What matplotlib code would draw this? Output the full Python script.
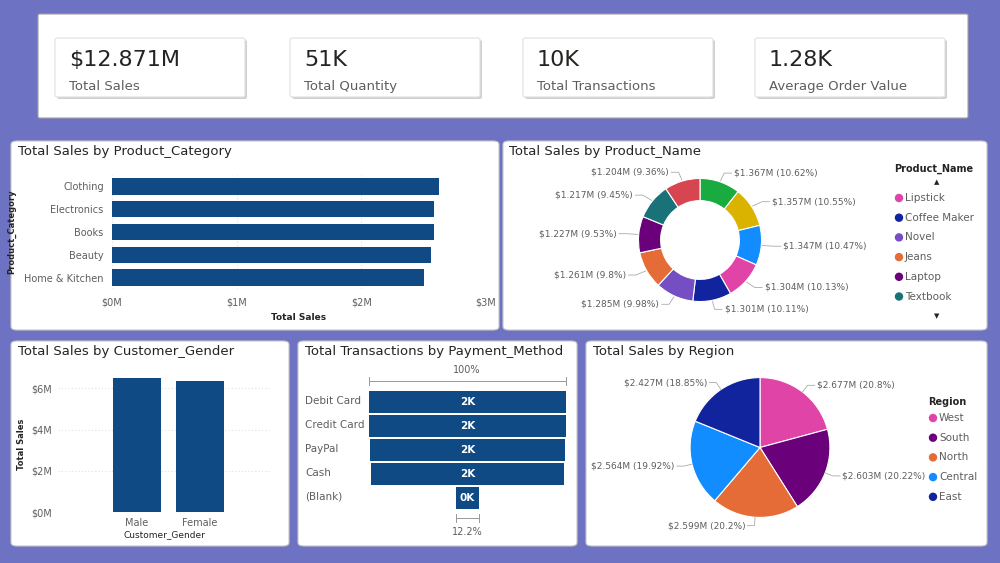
import matplotlib
matplotlib.use("Agg")
import matplotlib.pyplot as plt
from matplotlib.patches import FancyBboxPatch, Ellipse
import numpy as np

kpi_values = ["$12.871M", "51K", "10K", "1.28K"]
kpi_labels = ["Total Sales", "Total Quantity", "Total Transactions", "Average Order Value"]

categories = ["Clothing", "Electronics", "Books", "Beauty", "Home & Kitchen"]
cat_sales = [2.62, 2.58, 2.58, 2.56, 2.50]

products = ["P-green", "P-yellow", "P-blue", "Lipstick", "Coffee Maker", "Novel", "Jeans", "Laptop", "Textbook", "P-red"]
prod_sales = [1.367, 1.357, 1.347, 1.304, 1.301, 1.285, 1.261, 1.227, 1.217, 1.204]
prod_pct = [10.62, 10.55, 10.47, 10.13, 10.11, 9.98, 9.8, 9.53, 9.45, 9.36]
prod_colors = ["#1aab40", "#d9b300", "#118dff", "#e044a7", "#12239e", "#744ec2", "#e66c37", "#6b007b", "#197278", "#d64550"]
legend_names = ["Lipstick", "Coffee Maker", "Novel", "Jeans", "Laptop", "Textbook"]
legend_colors = ["#e044a7", "#12239e", "#744ec2", "#e66c37", "#6b007b", "#197278"]

genders = ["Male", "Female"]
gender_sales = [6.52, 6.35]

pay_methods = ["Debit Card", "Credit Card", "PayPal", "Cash", "(Blank)"]
pay_trans = [2020, 2015, 2005, 1970, 246]
pay_labels = ["2K", "2K", "2K", "2K", "0K"]

regions = ["West", "South", "North", "Central", "East"]
region_sales = [2.677, 2.603, 2.599, 2.564, 2.427]
region_pct = [20.8, 20.22, 20.2, 19.92, 18.85]
region_colors = ["#e044a7", "#6b007b", "#e66c37", "#118dff", "#12239e"]

BAR = "#0f4a85"
TXT = "#252423"
GREY = "#605e5c"

W, H = 1000, 563
fig = plt.figure(figsize=(10, 5.63), dpi=100)
fig.patch.set_facecolor("#6d72c3")

def ax_px(x0, y0, x1, y1):
    a = fig.add_axes([x0 / W, 1 - y1 / H, (x1 - x0) / W, (y1 - y0) / H])
    a.set_zorder(5)
    a.patch.set_alpha(0)
    return a

def panel(x0, y0, x1, y1, r=6, fc="white", ec="#c8c6c4"):
    p = FancyBboxPatch((x0 / W, 1 - y1 / H), (x1 - x0) / W, (y1 - y0) / H,
                       boxstyle="round,pad=0,rounding_size=%f" % (r / W),
                       transform=fig.transFigure, fc=fc, ec=ec, lw=0.8, zorder=0)
    fig.patches.append(p)

def ftext(x, y, s, **kw):
    fig.text(x / W, 1 - y / H, s, **kw)

def dot(x, y, c):
    fig.patches.append(Ellipse((x / W, 1 - y / H), 7 / W, 7 / H, transform=fig.transFigure, color=c, zorder=2))

# KPI container
panel(38, 14, 968, 118, r=2, ec="#a0a0a0")
kx = [55, 290, 523, 755]
for x, v, l in zip(kx, kpi_values, kpi_labels):
    panel(x + 2, 40, x + 192, 99, r=3, fc="#d0d0d0", ec="none")
    panel(x, 38, x + 190, 97, r=3, ec="#e0e0e0")
    ftext(x + 14, 60, v, fontsize=16, color=TXT, va="center")
    ftext(x + 14, 86, l, fontsize=9.5, color=GREY, va="center")

# Panels
panel(11, 141, 499, 330)
panel(503, 141, 987, 330)
panel(11, 341, 289, 546)
panel(298, 341, 577, 546)
panel(586, 341, 987, 546)
tkw = dict(fontsize=9.5, color=TXT, va="center")
ftext(18, 152, "Total Sales by Product_Category", **tkw)
ftext(509, 152, "Total Sales by Product_Name", **tkw)
ftext(18, 351, "Total Sales by Customer_Gender", **tkw)
ftext(305, 351, "Total Transactions by Payment_Method", **tkw)
ftext(593, 351, "Total Sales by Region", **tkw)

# Category bars
ax = ax_px(112, 175, 486, 289)
y = np.arange(len(categories))
ax.barh(y, cat_sales, height=0.72, color=BAR)
ax.set_ylim(len(categories) - 0.5, -0.5)
ax.set_xlim(0, 3)
ax.set_xticks([0, 1, 2, 3])
ax.set_xticklabels(["$0M", "$1M", "$2M", "$3M"], fontsize=7, color=GREY)
ax.set_yticks(y)
ax.set_yticklabels(categories, fontsize=7, color=GREY)
ax.tick_params(length=0, pad=6)
for s in ax.spines.values():
    s.set_visible(False)
ax.grid(axis="x", color="#e0e0e0", ls=(0, (1, 2)), lw=0.8)
ax.set_axisbelow(True)
ax.set_xlabel("Total Sales", fontsize=6.5, color=TXT, fontweight="bold", labelpad=4)
ax.set_ylabel("Product_Category", fontsize=6, color=TXT, fontweight="bold", labelpad=6)

# Donut
ax = ax_px(560, 160, 840, 320)
ax.set_aspect("equal")
wedges, _ = ax.pie(prod_sales, colors=prod_colors, startangle=90, counterclock=False,
                   radius=1.0, wedgeprops=dict(width=0.36, edgecolor="white", linewidth=0.8))
for w, v, p in zip(wedges, prod_sales, prod_pct):
    ang = np.deg2rad((w.theta1 + w.theta2) / 2)
    cx, cy = np.cos(ang), np.sin(ang)
    side = 1 if cx >= 0 else -1
    p1 = (1.02 * cx, 1.02 * cy)
    p2 = (1.2 * cx, 1.15 * cy)
    p3 = (p2[0] + side * 0.12, p2[1])
    ax.plot([p1[0], p2[0], p3[0]], [p1[1], p2[1], p3[1]], color="#aaaaaa", lw=0.6)
    ax.text(p3[0] + side * 0.04, p3[1], "$%.3fM (%g%%)" % (v, p), fontsize=6.5, color=GREY,
            ha="left" if side > 0 else "right", va="center")
ax.set_xlim(-1.6, 1.6)
ax.set_ylim(-1.3, 1.3)

ftext(894, 169, "Product_Name", fontsize=7, color=TXT, fontweight="bold", va="center")
ftext(937, 182, "▲", fontsize=5, color=TXT, va="center", ha="center")
ftext(937, 316, "▼", fontsize=5, color=TXT, va="center", ha="center")
for i, (n, c) in enumerate(zip(legend_names, legend_colors)):
    yy = 198 + i * 19.7
    dot(899, yy, c)
    ftext(905, yy, n, fontsize=7.5, color=GREY, va="center")

# Gender bars
ax = ax_px(58, 376, 270, 512)
x = np.arange(len(genders))
ax.bar(x, gender_sales, width=0.76, color=BAR)
ax.set_xlim(-1.25, 2.11)
ax.set_ylim(0, 6.6)
ax.set_yticks([0, 2, 4, 6])
ax.set_yticklabels(["$0M", "$2M", "$4M", "$6M"], fontsize=7, color=GREY)
ax.set_xticks(x)
ax.set_xticklabels(genders, fontsize=7, color=GREY)
ax.tick_params(length=0, pad=4)
for s in ax.spines.values():
    s.set_visible(False)
ax.grid(axis="y", color="#e0e0e0", ls=(0, (1, 2)), lw=0.8)
ax.set_axisbelow(True)
ax.set_xlabel("Customer_Gender", fontsize=6.5, color=TXT, labelpad=2)
ax.set_ylabel("Total Sales", fontsize=6, color=TXT, fontweight="bold", labelpad=4)

# Funnel
ax = ax_px(369, 390, 566, 510)
yy = np.arange(len(pay_methods))
mx = max(pay_trans)
ax.barh(yy, pay_trans, left=[(mx - v) / 2 for v in pay_trans], height=0.88, color=BAR)
ax.set_xlim(0, mx)
ax.set_ylim(len(pay_methods) - 0.5, -0.5)
ax.axis("off")
for i, (v, l, n) in enumerate(zip(pay_trans, pay_labels, pay_methods)):
    ax.text(mx / 2, i, l, color="white", fontsize=7.5, fontweight="bold", ha="center", va="center")
    ax.text(-64 / 197 * mx, i - 0.05, n, fontsize=7.5, color=GREY, ha="left", va="center")
lk = dict(color="#999999", lw=0.7)
fig.add_artist(plt.Line2D([369 / W, 566 / W], [1 - 381 / H] * 2, **lk))
fig.add_artist(plt.Line2D([369 / W] * 2, [1 - 377 / H, 1 - 385 / H], **lk))
fig.add_artist(plt.Line2D([566 / W] * 2, [1 - 377 / H, 1 - 385 / H], **lk))
ftext(467, 370, "%d%%" % 100, fontsize=7, color=GREY, ha="center", va="center")
bw = pay_trans[-1] / mx * 197
bx0, bx1 = 467.5 - bw / 2, 467.5 + bw / 2
fig.add_artist(plt.Line2D([bx0 / W, bx1 / W], [1 - 518 / H] * 2, **lk))
fig.add_artist(plt.Line2D([bx0 / W] * 2, [1 - 514 / H, 1 - 522 / H], **lk))
fig.add_artist(plt.Line2D([bx1 / W] * 2, [1 - 514 / H, 1 - 522 / H], **lk))
ftext(467, 532, "%.1f%%" % (pay_trans[-1] / mx * 100), fontsize=7, color=GREY, ha="center", va="center")

# Region pie
ax = ax_px(600, 365, 920, 530)
ax.set_aspect("equal")
wedges, _ = ax.pie(region_sales, colors=region_colors, startangle=90, counterclock=False,
                   radius=1.0, wedgeprops=dict(edgecolor="white", linewidth=0.8))
for w, v, p in zip(wedges, region_sales, region_pct):
    ang = np.deg2rad((w.theta1 + w.theta2) / 2)
    cx, cy = np.cos(ang), np.sin(ang)
    side = 1 if cx >= 0 else -1
    p1 = (1.0 * cx, 1.0 * cy)
    p2 = (1.12 * cx, 1.12 * cy)
    p3 = (p2[0] + side * 0.1, p2[1])
    ax.plot([p1[0], p2[0], p3[0]], [p1[1], p2[1], p3[1]], color="#aaaaaa", lw=0.6)
    ax.text(p3[0] + side * 0.03, p3[1], "$%.3fM (%g%%)" % (v, p), fontsize=6.5, color=GREY,
            ha="left" if side > 0 else "right", va="center")
ax.set_xlim(-1.9, 1.9)
ax.set_ylim(-1.18, 1.18)

ftext(928, 402, "Region", fontsize=7, color=TXT, fontweight="bold", va="center")
for i, (n, c) in enumerate(zip(regions, region_colors)):
    yy = 418 + i * 19.7
    dot(933, yy, c)
    ftext(939, yy, n, fontsize=7.5, color=GREY, va="center")

fig.savefig("out.png", dpi=100, facecolor=fig.get_facecolor())
